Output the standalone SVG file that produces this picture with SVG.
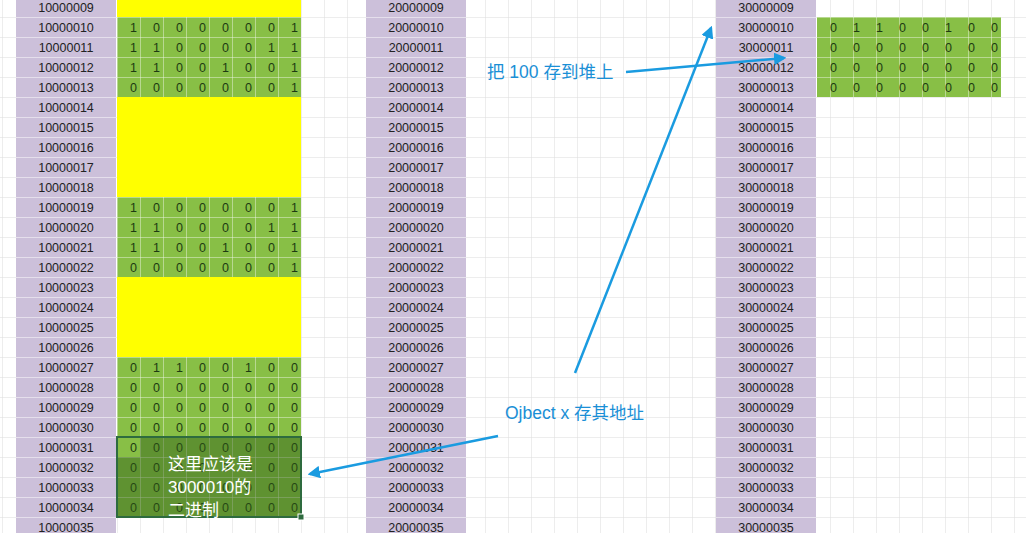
<svg xmlns="http://www.w3.org/2000/svg" width="1026" height="533" viewBox="0 0 1026 533">
<style>
.lb{font-family:"Liberation Sans",Arial,sans-serif;font-size:12.5px;fill:#222;text-anchor:middle}
.d{font-family:"Liberation Sans",Arial,sans-serif;font-size:12.5px;fill:#1d3a12;text-anchor:end}
.ann{font-family:"Liberation Sans","Noto Sans CJK SC",sans-serif;font-size:17.5px;fill:#1a8fd6}
.sel{font-family:"Liberation Sans","Noto Sans CJK SC",sans-serif;font-size:17px;fill:#fff}
.ar{stroke:#1a9be0;stroke-width:2.5;fill:none;marker-end:url(#ah)}
</style>
<defs>
<pattern id="grid" x="117" y="17" width="23" height="20" patternUnits="userSpaceOnUse">
<path d="M0 0H23M0 0V20" stroke="#dcdcdc" stroke-width="1" fill="none"/>
</pattern>
<pattern id="lab" x="0" y="17" width="1026" height="20" patternUnits="userSpaceOnUse">
<rect width="1026" height="20" fill="#ccc0da"/><path d="M0 0H1026" stroke="#fff"/>
<path d="M0 0.5h6l-6 5z" fill="#1e7a32"/>
</pattern>
<pattern id="cell" x="117" y="17" width="23" height="20" patternUnits="userSpaceOnUse">
<path d="M0 0H23M0 0V20" stroke="#e8f2dc" stroke-width="1" fill="none"/>
</pattern>
<marker id="ah" viewBox="0 0 10 10" refX="8" refY="5" markerWidth="5" markerHeight="5" orient="auto"><path d="M0 0L10 5L0 10z" fill="#1a9be0"/></marker>
</defs>
<rect width="1026" height="533" fill="#fff"/>
<rect width="1026" height="533" fill="url(#grid)"/>
<g id="block1">
<rect x="16" y="-3" width="100" height="540" fill="url(#lab)"/>
<rect x="117" y="-3" width="184" height="20" fill="#ffff00"/>
<rect x="117" y="17" width="184" height="80" fill="#88bf46"/>
<rect x="117" y="97" width="184" height="100" fill="#ffff00"/>
<rect x="117" y="197" width="184" height="80" fill="#88bf46"/>
<rect x="117" y="277" width="184" height="80" fill="#ffff00"/>
<rect x="117" y="357" width="184" height="160" fill="#88bf46"/>
<rect x="117" y="17" width="184" height="80" fill="url(#cell)"/>
<rect x="117" y="197" width="184" height="80" fill="url(#cell)"/>
<rect x="117" y="357" width="184" height="160" fill="url(#cell)"/>
<g class="lb">
<text x="66" y="11.5">10000009</text><text x="66" y="31.5">10000010</text><text x="66" y="51.5">10000011</text><text x="66" y="71.5">10000012</text><text x="66" y="91.5">10000013</text><text x="66" y="111.5">10000014</text><text x="66" y="131.5">10000015</text><text x="66" y="151.5">10000016</text><text x="66" y="171.5">10000017</text><text x="66" y="191.5">10000018</text><text x="66" y="211.5">10000019</text><text x="66" y="231.5">10000020</text><text x="66" y="251.5">10000021</text><text x="66" y="271.5">10000022</text><text x="66" y="291.5">10000023</text><text x="66" y="311.5">10000024</text><text x="66" y="331.5">10000025</text><text x="66" y="351.5">10000026</text><text x="66" y="371.5">10000027</text><text x="66" y="391.5">10000028</text><text x="66" y="411.5">10000029</text><text x="66" y="431.5">10000030</text><text x="66" y="451.5">10000031</text><text x="66" y="471.5">10000032</text><text x="66" y="491.5">10000033</text><text x="66" y="511.5">10000034</text><text x="66" y="531.5">10000035</text>
</g>
<g class="d">
<text x="137 160 183 206 229 252 275 298" y="31.5">10000001</text>
<text x="137 160 183 206 229 252 275 298" y="51.5">11000011</text>
<text x="137 160 183 206 229 252 275 298" y="71.5">11001001</text>
<text x="137 160 183 206 229 252 275 298" y="91.5">00000001</text>
<text x="137 160 183 206 229 252 275 298" y="211.5">10000001</text>
<text x="137 160 183 206 229 252 275 298" y="231.5">11000011</text>
<text x="137 160 183 206 229 252 275 298" y="251.5">11001001</text>
<text x="137 160 183 206 229 252 275 298" y="271.5">00000001</text>
<text x="137 160 183 206 229 252 275 298" y="371.5">01100100</text>
<text x="137 160 183 206 229 252 275 298" y="391.5">00000000</text>
<text x="137 160 183 206 229 252 275 298" y="411.5">00000000</text>
<text x="137 160 183 206 229 252 275 298" y="431.5">00000000</text>
<text x="137 160 183 206 229 252 275 298" y="451.5">00000000</text>
<text x="137 160 183 206 229 252 275 298" y="471.5">00000000</text>
<text x="137 160 183 206 229 252 275 298" y="491.5">00000000</text>
<text x="137 160 183 206 229 252 275 298" y="511.5">00000000</text>
</g>
</g>
<g id="selection">
<rect x="140" y="437" width="161" height="20" fill="#2f5a18" opacity="0.45"/>
<rect x="117" y="457" width="184" height="60" fill="#2f5a18" opacity="0.45"/>
<rect x="117" y="437" width="184" height="80" fill="none" stroke="#2e6b3f" stroke-width="2"/>
<rect x="298" y="514" width="6" height="6" fill="#2e6b3f" stroke="#fff"/>
<text class="sel" x="168" y="470">这里应该是</text>
<text class="sel" x="168" y="493">3000010的</text>
<text class="sel" x="168" y="516">二进制</text>
</g>
<g id="block2">
<rect x="366" y="-3" width="100" height="540" fill="url(#lab)"/>
<g class="lb">
<text x="416" y="11.5">20000009</text><text x="416" y="31.5">20000010</text><text x="416" y="51.5">20000011</text><text x="416" y="71.5">20000012</text><text x="416" y="91.5">20000013</text><text x="416" y="111.5">20000014</text><text x="416" y="131.5">20000015</text><text x="416" y="151.5">20000016</text><text x="416" y="171.5">20000017</text><text x="416" y="191.5">20000018</text><text x="416" y="211.5">20000019</text><text x="416" y="231.5">20000020</text><text x="416" y="251.5">20000021</text><text x="416" y="271.5">20000022</text><text x="416" y="291.5">20000023</text><text x="416" y="311.5">20000024</text><text x="416" y="331.5">20000025</text><text x="416" y="351.5">20000026</text><text x="416" y="371.5">20000027</text><text x="416" y="391.5">20000028</text><text x="416" y="411.5">20000029</text><text x="416" y="431.5">20000030</text><text x="416" y="451.5">20000031</text><text x="416" y="471.5">20000032</text><text x="416" y="491.5">20000033</text><text x="416" y="511.5">20000034</text><text x="416" y="531.5">20000035</text>
</g>
</g>
<g id="block3">
<rect x="716" y="-3" width="100" height="540" fill="url(#lab)"/>
<rect x="817" y="17" width="184" height="80" fill="#88bf46"/>
<rect x="817" y="17" width="184" height="80" fill="url(#cell)"/>
<g class="lb">
<text x="766" y="11.5">30000009</text><text x="766" y="31.5">30000010</text><text x="766" y="51.5">30000011</text><text x="766" y="71.5">30000012</text><text x="766" y="91.5">30000013</text><text x="766" y="111.5">30000014</text><text x="766" y="131.5">30000015</text><text x="766" y="151.5">30000016</text><text x="766" y="171.5">30000017</text><text x="766" y="191.5">30000018</text><text x="766" y="211.5">30000019</text><text x="766" y="231.5">30000020</text><text x="766" y="251.5">30000021</text><text x="766" y="271.5">30000022</text><text x="766" y="291.5">30000023</text><text x="766" y="311.5">30000024</text><text x="766" y="331.5">30000025</text><text x="766" y="351.5">30000026</text><text x="766" y="371.5">30000027</text><text x="766" y="391.5">30000028</text><text x="766" y="411.5">30000029</text><text x="766" y="431.5">30000030</text><text x="766" y="451.5">30000031</text><text x="766" y="471.5">30000032</text><text x="766" y="491.5">30000033</text><text x="766" y="511.5">30000034</text><text x="766" y="531.5">30000035</text>
</g>
<g class="d">
<text x="837 860 883 906 929 952 975 998" y="31.5">01100100</text>
<text x="837 860 883 906 929 952 975 998" y="51.5">00000000</text>
<text x="837 860 883 906 929 952 975 998" y="71.5">00000000</text>
<text x="837 860 883 906 929 952 975 998" y="91.5">00000000</text>
</g>
</g>
<g id="labels">
<text class="ann" x="487" y="78">把 100 存到堆上</text>
<text class="ann" x="505" y="419">Ojbect x 存其地址</text>
</g>
<g id="connectors">
<path class="ar" d="M575 373L711 28"/>
<path class="ar" d="M626 72L784 58"/>
<path class="ar" d="M498 436L310 474"/>
</g>
</svg>
